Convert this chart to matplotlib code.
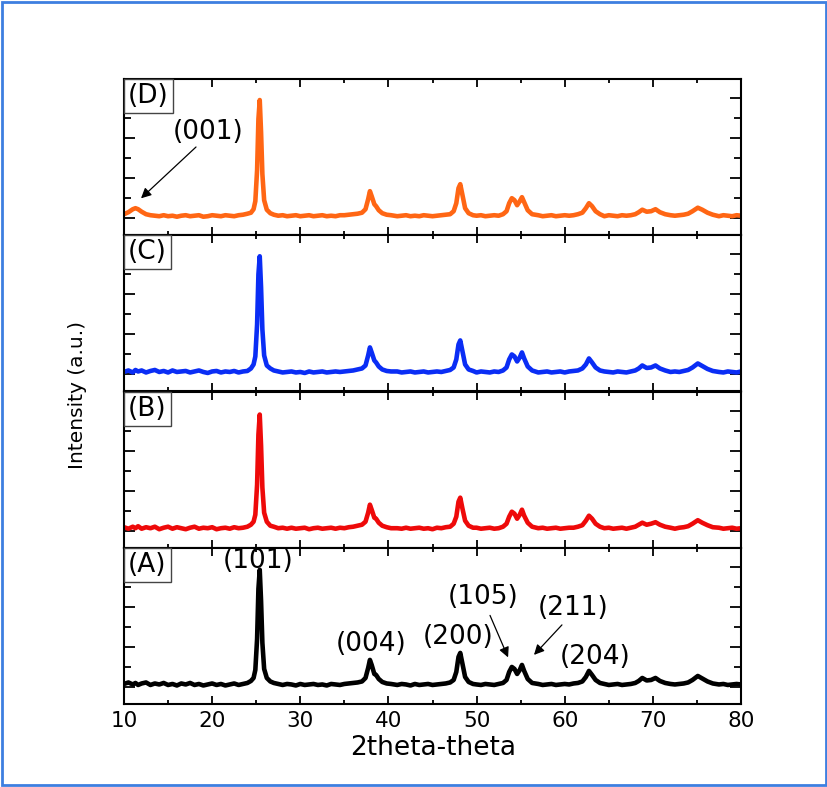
import numpy as np
import matplotlib
matplotlib.use('Agg')
import matplotlib.pyplot as plt
from matplotlib.patches import Rectangle

# 2theta grid (deg), one line per region of the pattern
two_theta = [10, 10.5, 11, 11.3, 11.6, 12, 12.5, 13, 13.5, 14, 14.5, 15, 15.5, 16, 16.5, 17, 17.5, 18, 18.5, 19, 19.5, 20, 20.5, 21, 21.5, 22, 22.5, 23, 23.5, 24,
             24.4, 24.7, 24.9, 25.1, 25.25, 25.4, 25.55, 25.7, 25.9, 26.2, 26.6, 27,
             27.5, 28, 28.5, 29, 29.5, 30, 30.5, 31, 31.5, 32, 32.5, 33, 33.5, 34, 34.5, 35, 35.5, 36, 36.5, 37,
             37.4, 37.7, 37.9, 38.1, 38.4, 38.6, 38.9, 39.3, 39.8, 40.3,
             41, 41.5, 42, 42.5, 43, 43.5, 44, 44.5, 45, 45.5, 46, 46.5, 47,
             47.4, 47.7, 47.95, 48.15, 48.4, 48.7, 49.1, 49.6,
             50, 50.5, 51, 51.5, 52, 52.5, 53,
             53.4, 53.7, 54.0, 54.3, 54.6, 54.9, 55.15, 55.4, 55.8, 56.3,
             57, 57.5, 58, 58.5, 59, 59.5, 60, 60.5, 61, 61.5, 62,
             62.4, 62.75, 63.1, 63.5, 64,
             64.5, 65, 65.5, 66, 66.5, 67, 67.5, 68,
             68.4, 68.8, 69.3, 69.8, 70.3, 70.8, 71.4,
             72, 72.5, 73, 73.5, 74,
             74.5, 75.1, 75.6, 76.2, 76.8,
             77.5, 78, 78.5, 79, 79.5, 80]

int_A = [1, 2.5, 0.5, 2, 0, 1.5, 2.5, 0, 1.5, 0.5, 2, 0, 1, -0.5, 1.5, 0.5, 2, 0, 1, -0.5, 0.5, 1.5, 0, 1, -0.5, 0.5, 1.5, 0, 1, 2,
         4, 7, 15, 46, 96, 115, 84, 42, 16, 7, 3.5, 2,
         1, 0, 1, 0.5, -0.5, 1, 0, 0.5, 1, 0, 0.5, -0.5, 1, 0.5, 0, 1, 1.5, 2, 2.5, 3.5,
         7, 17, 25, 20, 11, 10, 6, 3, 1.5, 1,
         0, 1, 0.5, -0.5, 1, 0, 0.5, 1, 0, 0.5, 1, 1.5, 2.5,
         5, 13, 28, 32, 21, 8, 3, 1,
         0.5, 0, 1, 0.5, 0, 1, 2,
         5, 13, 18, 16, 11, 15, 20, 14, 6, 2,
         1, 0, 0.5, 1, 0, 0.5, 1, 0.5, 1.5, 2, 3.5,
         8, 14, 10, 5, 2,
         1, 0, 0.5, 1, 0, 0.5, 1, 2,
         4, 7, 4.5, 5, 7, 4, 2,
         1, 0.5, 1, 1.5, 2.5,
         5, 9, 6.5, 3.5, 1.5,
         0.5, 1, 0, 0.5, 1, 0.5]

int_B = [1.5, 0, 2, 0.5, 2.5, 0, 1.5, 0.5, 2, -0.5, 1, 2, 0, 1.5, 0.5, -0.5, 1, 2, 0, 1, 0.5, 1.5, -0.5, 0.5, 1, 0, 1.5, 0.5, 1, 2,
         4, 7, 14, 44, 94, 114, 83, 41, 16, 7, 3, 2,
         0.5, 1, 0, 1, 0, 0.5, 1, -0.5, 0.5, 1, 0, 0.5, 1, 0, 1, 0.5, 1.5, 2, 3, 4,
         7, 16, 24, 19, 11, 10, 6, 3, 1.5, 0.5,
         0.5, 0, 1, 0, 0.5, 1, 0, 0.5, -0.5, 1, 0.5, 1.5, 2,
         5, 12, 27, 31, 20, 8, 3, 1,
         1, 0, 0.5, 1, 0, 0.5, 2,
         5, 12, 17, 15, 10, 14, 19, 13, 6, 2,
         0.5, 1, 0, 0.5, 1, 0, 0.5, 1, 1, 2, 3.5,
         8, 13, 10, 5, 2,
         0.5, 1, 0, 0.5, 1, 0, 1, 2,
         4, 6, 4, 5, 6.5, 4, 2,
         1, 0, 1, 1.5, 2.5,
         5, 8.5, 6, 3.5, 1.5,
         1, 0, 0.5, 1, 0, 0.5]

int_C = [0.5, 2, 0, 2.5, 1, 2, 0, 1.5, 2.5, 0.5, 1.5, 0, 2, 0.5, 1, 1.5, 0, 1, 2, 0.5, -0.5, 1, 1.5, 0, 1, 0.5, 1.5, 0, 1, 1.5,
         4, 8, 16, 48, 98, 116, 85, 43, 17, 7, 4, 2,
         1, 0, 0.5, 1, 0, 0.5, -0.5, 1, 0, 0.5, 1, 0, 0.5, 1, 0.5, 1, 1.5, 2, 3, 4,
         7, 17, 25, 20, 12, 10, 6, 3, 1.5, 1,
         1, 0, 0.5, 1, 0, 0.5, 1, 0, 0.5, 1, 0.5, 1.5, 2.5,
         5, 13, 28, 32, 21, 8, 3, 1.5,
         0, 1, 0.5, 0, 1, 0.5, 2,
         5, 13, 18, 16, 11, 15, 20, 14, 6, 2,
         0, 0.5, 1, 0, 0.5, 1, 0, 1, 1.5, 2, 4,
         8, 14, 10, 5, 2,
         1, 0.5, 0, 1, 0.5, 0, 1, 2,
         4, 7, 4.5, 5, 7, 4, 2,
         0.5, 1, 0.5, 1.5, 2.5,
         5, 9, 6.5, 3.5, 1.5,
         0.5, 0, 1, 0.5, 0, 1]

int_D = [2, 4, 7, 8, 7, 4.5, 2, 1, 0.5, 0, 1, 0, 0.5, -0.5, 0.5, 1, 0, 0.5, 1, -0.5, 0, 1, 0.5, 0, 1, 0.5, 0, 1, 1.5, 2.5,
         3.5, 7, 15, 46, 97, 116, 84, 42, 16, 6.5, 3, 1.5,
         0.5, 1, 0, 0.5, 1, 0, 0.5, 1, 0, 0.5, 1, 0, 0.5, 0, 1, 1, 1.5, 2, 2.5, 3.5,
         7, 17, 25, 20, 12, 10, 6, 3, 1.5, 1,
         0, 0.5, 1, 0, 0.5, 0, 1, 0.5, 0, 0.5, 1, 1.5, 2,
         5, 13, 28, 32, 21, 8, 3, 1,
         0.5, 1, 0, 0.5, 1, 0.5, 2,
         5, 13, 18, 16, 11, 15, 19, 14, 6, 2,
         1, 0, 0.5, 1, 0, 0.5, 1, 0.5, 1, 2, 3.5,
         8, 13, 10, 5, 2,
         0, 1, 0.5, 0, 1, 0.5, 1, 2,
         4, 6.5, 4.5, 5, 7, 4, 2,
         1, 0.5, 1, 1.5, 2.5,
         5, 8.5, 6.5, 3.5, 1.5,
         0, 1, 0.5, 0, 1, 0.5]

# top to bottom
panel_labels = ['(D)', '(C)', '(B)', '(A)']
panel_data = [int_D, int_C, int_B, int_A]
panel_colors = ['#ff6614', '#0a2df5', '#ee0a0a', '#000000']

fig = plt.figure(figsize=(8.28, 7.87), dpi=100)

left, width = 124 / 828, 617 / 828
bottom_all, top_all = 1 - 704 / 787, 1 - 79 / 787
h = (top_all - bottom_all) / 4

axes = []
for i, (lab, y, c) in enumerate(zip(panel_labels, panel_data, panel_colors)):
    ax = fig.add_axes([left, top_all - (i + 1) * h, width, h])
    ax.plot(two_theta, y, color=c, lw=3.3, solid_joinstyle='round')
    ax.set_xlim(10, 80)
    ax.set_ylim(-19, 137)
    ax.set_xticks(np.arange(10, 81, 10))
    ax.set_xticks(np.arange(15, 80, 10), minor=True)
    ax.set_yticks([-2, 38, 78, 118])
    ax.set_yticks([18, 58, 98], minor=True)
    ax.tick_params(which='both', direction='in', top=True, right=True, width=1.3)
    ax.tick_params(axis='x', which='major', length=6)
    ax.tick_params(axis='x', which='minor', length=3)
    ax.tick_params(axis='y', which='major', length=8)
    ax.tick_params(axis='y', which='minor', length=5)
    ax.set_yticklabels([])
    if i < 3:
        ax.set_xticklabels([])
    else:
        ax.tick_params(axis='x', labelsize=15.5, pad=5)
    for s in ax.spines.values():
        s.set_linewidth(1.5)
    ax.annotate(lab, xy=(0, 1), xycoords='axes fraction', xytext=(3, -3),
                textcoords='offset points', ha='left', va='top', fontsize=19,
                bbox=dict(boxstyle='square,pad=0.15', fc='white', ec='#444444', lw=1))
    axes.append(ax)

axD, axA = axes[0], axes[3]
arrow = dict(arrowstyle='-|>', color='black', lw=0.9, mutation_scale=15)
fs = 19

# plane indices
axD.text(19.5, 84, '(001)', fontsize=fs, ha='center', va='center')
axD.annotate('', xy=(11.7, 16), xytext=(18.4, 71), arrowprops=arrow)

axA.text(25.2, 124, '(101)', fontsize=fs, ha='center', va='center')
axA.text(38.0, 41, '(004)', fontsize=fs, ha='center', va='center')
axA.text(47.9, 48, '(200)', fontsize=fs, ha='center', va='center')
axA.text(50.8, 88, '(105)', fontsize=fs, ha='center', va='center')
axA.text(60.9, 77, '(211)', fontsize=fs, ha='center', va='center')
axA.text(63.4, 28, '(204)', fontsize=fs, ha='center', va='center')
axA.annotate('', xy=(53.7, 25), xytext=(51.4, 72), arrowprops=arrow)
axA.annotate('', xy=(56.3, 28), xytext=(59.9, 62), arrowprops=arrow)

fig.text(0.523, 1 - 748 / 787, '2theta-theta', fontsize=19, ha='center', va='center')
fig.text(78 / 828, 1 - 395 / 787, 'Intensity (a.u.)', fontsize=14.5, rotation=90,
         ha='center', va='center')

# blue frame round the figure
fig.patches.append(Rectangle((0.002, 0.003), 0.996, 0.995, transform=fig.transFigure,
                             fill=False, ec='#3d7fe0', lw=2))

fig.savefig('out.png', dpi=100)
